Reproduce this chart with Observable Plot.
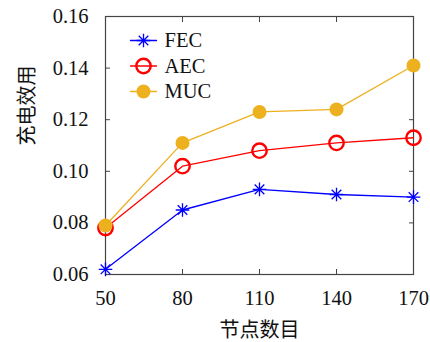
<!DOCTYPE html>
<html><head><meta charset="utf-8">
<script src="https://cdn.jsdelivr.net/npm/d3@7"></script>
<script src="https://cdn.jsdelivr.net/npm/@observablehq/plot@0.6"></script>
<style>body{margin:0;background:#fff} #chart{width:430px;height:342px}</style>
</head><body><div id="chart"></div>
<script>
const nodes = [50, 80, 110, 140, 170];
const fec = [0.062, 0.085, 0.093, 0.091, 0.090];
const aec = [0.078, 0.102, 0.108, 0.111, 0.113];
const muc = [0.079, 0.111, 0.123, 0.124, 0.141];
const seriesNames = ["FEC", "AEC", "MUC"];
const yTicks = [0.06, 0.08, 0.10, 0.12, 0.14, 0.16];
const xLabel = "节点数目";
const yLabel = "充电效用";

const serifFont = "'Liberation Serif', serif";
const cjkFont = "'Noto Sans CJK SC', sans-serif";

const asterisk = {
  draw(ctx, size) {
    const r = Math.sqrt(size / Math.PI);
    const d = r * Math.SQRT1_2;
    ctx.moveTo(-r, 0); ctx.lineTo(r, 0);
    ctx.moveTo(0, -r); ctx.lineTo(0, r);
    ctx.moveTo(-d, -d); ctx.lineTo(d, d);
    ctx.moveTo(-d, d); ctx.lineTo(d, -d);
  }
};
const hline = {draw(ctx, l) { ctx.moveTo(0, 0); ctx.lineTo(0, -l); }};

const series = [
  {name: seriesNames[0], vals: fec, color: "#0000ff", dot: {symbol: asterisk, stroke: "#0000ff", fill: "none", r: 6.8, strokeWidth: 1.3}},
  {name: seriesNames[1], vals: aec, color: "#ff0000", dot: {symbol: "circle", stroke: "#ff0000", fill: "none", r: 7.2, strokeWidth: 2.4}},
  {name: seriesNames[2], vals: muc, color: "#edb120", dot: {symbol: "circle", fill: "#edb120", stroke: "none", r: 7}}
];

const marks = [];
for (const s of series) {
  const data = nodes.map((x, i) => ({x, y: s.vals[i]}));
  marks.push(Plot.line(data, {x: "x", y: "y", stroke: s.color, strokeWidth: 1.3}));
  marks.push(Plot.dot(data, {x: "x", y: "y", ...s.dot}));
}
series.forEach((s, i) => {
  const dy = 24 + 25.5 * i;
  marks.push(Plot.vector([s.name], {frameAnchor: "top-left", dx: 38, dy, rotate: 90, length: 26, anchor: "middle", shape: hline, stroke: s.color, strokeWidth: 1.3}));
  marks.push(Plot.dot([s.name], {frameAnchor: "top-left", dx: 38, dy, ...s.dot}));
  marks.push(Plot.text([s.name], {frameAnchor: "top-left", dx: 59, dy, text: d => d, textAnchor: "start", lineAnchor: "middle", fontSize: 20.5, fontFamily: serifFont, fill: "#111"}));
});

const chart = Plot.plot({
  width: 430, height: 342,
  marginLeft: 105, marginRight: 17, marginTop: 16, marginBottom: 68,
  x: {domain: [50, 170], ticks: nodes},
  y: {domain: [0.06, 0.16], ticks: yTicks},
  marks: [
    Plot.frame({stroke: "#444", strokeWidth: 1.2}),
    Plot.axisX(nodes, {anchor: "bottom", tickSize: -5, tickFormat: () => "", label: null, stroke: "#444"}),
    Plot.axisX(nodes, {anchor: "top", tickSize: -5, tickFormat: () => "", label: null, stroke: "#444"}),
    Plot.axisY(yTicks, {anchor: "left", tickSize: -5, tickFormat: () => "", label: null, stroke: "#444"}),
    Plot.axisY(yTicks, {anchor: "right", tickSize: -5, tickFormat: () => "", label: null, stroke: "#444"}),
    Plot.axisX(nodes, {anchor: "bottom", tickSize: 0, tickPadding: 16, tickFormat: d3.format("d"), label: null, fontSize: 20.5, fontFamily: serifFont, fill: "#111"}),
    Plot.axisY(yTicks, {anchor: "left", tickSize: 0, tickPadding: 17, tickFormat: d3.format(".2f"), label: null, fontSize: 20.5, fontFamily: serifFont, fill: "#111"}),
    Plot.text([yLabel], {frameAnchor: "left", dx: -78, rotate: -90, text: d => d, fontSize: 20, fontFamily: cjkFont, fill: "#111", lineAnchor: "middle"}),
    Plot.text([xLabel], {frameAnchor: "bottom", dy: 56, text: d => d, fontSize: 20, fontFamily: cjkFont, fill: "#111", lineAnchor: "middle"}),
    ...marks
  ]
});
document.getElementById("chart").append(chart);
</script>
</body></html>
